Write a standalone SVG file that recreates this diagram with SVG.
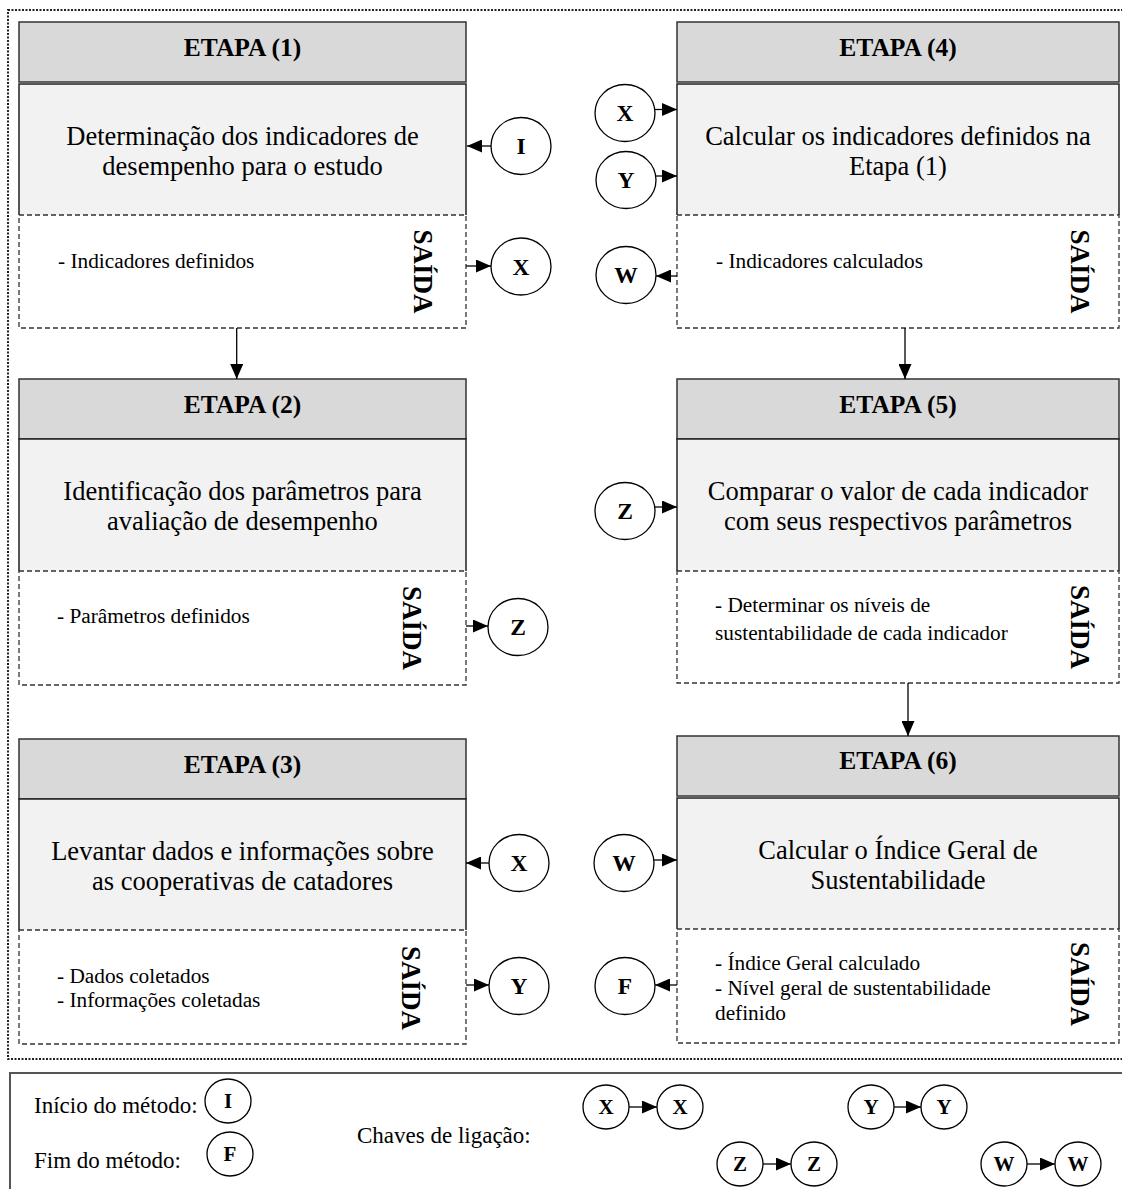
<svg xmlns="http://www.w3.org/2000/svg" width="1122" height="1189" viewBox="0 0 1122 1189">
<style>
text{font-family:"Liberation Serif","Times New Roman",serif;fill:#000}
.hd{fill:#d9d9d9;stroke:#333;stroke-width:1.5}
.bf{fill:#f2f2f2;stroke:none}
.be{fill:none;stroke:#222;stroke-width:1.5}
.ds{fill:none;stroke:#333;stroke-width:1.3;stroke-dasharray:5 3}
.ht{font-size:25.5px;font-weight:bold;text-anchor:middle}
.bt{font-size:26.5px;text-anchor:middle}
.ot{font-size:21.3px}
.sd{font-size:27px;font-weight:bold;text-anchor:middle}
.c{fill:#fff;stroke:#000;stroke-width:1.3}
.ct{font-size:23.5px;font-weight:bold;text-anchor:middle}
.lt{font-size:21px;font-weight:bold;text-anchor:middle}
.lg{font-size:23px}
.ln{fill:none;stroke:#000;stroke-width:1.3}
</style>
<defs>
<marker id="ah" viewBox="0 0 15 13" refX="15" refY="6.5" markerWidth="15" markerHeight="13" markerUnits="userSpaceOnUse" orient="auto">
<path d="M0,0 L15,6.5 L0,13 Z" fill="#000"/>
</marker>
</defs>
<rect x="8" y="10" width="1130" height="1049" fill="none" stroke="#222" stroke-width="2" stroke-dasharray="2 1.5"/>

<g id="etapa1">
<rect class="hd" x="19" y="22" width="447" height="60"/>
<text class="ht" x="242.5" y="56">ETAPA (1)</text>
<rect class="bf" x="19" y="84" width="447" height="131"/>
<path class="be" d="M19,215 V84 H466 V215"/>
<text class="bt" x="242.5" y="145">Determinação dos indicadores de</text>
<text class="bt" x="242.5" y="175">desempenho para o estudo</text>
<rect class="ds" x="19" y="215" width="447" height="113"/>
<text class="ot" x="58" y="268">- Indicadores definidos</text>
<text class="sd" transform="translate(414,271.5) rotate(90)">SAÍDA</text>
</g>

<g id="etapa2">
<rect class="hd" x="19" y="379" width="447" height="60"/>
<text class="ht" x="242.5" y="412.5">ETAPA (2)</text>
<rect class="bf" x="19" y="439" width="447" height="132"/>
<path class="be" d="M19,571 V439 H466 V571"/>
<text class="bt" x="242.5" y="500">Identificação dos parâmetros para</text>
<text class="bt" x="242.5" y="530">avaliação de desempenho</text>
<rect class="ds" x="19" y="571" width="447" height="114"/>
<text class="ot" x="57" y="623">- Parâmetros definidos</text>
<text class="sd" transform="translate(403,628) rotate(90)">SAÍDA</text>
</g>

<g id="etapa3">
<rect class="hd" x="19" y="739" width="447" height="60"/>
<text class="ht" x="242.5" y="772.5">ETAPA (3)</text>
<rect class="bf" x="19" y="799" width="447" height="131"/>
<path class="be" d="M19,930 V799 H466 V930"/>
<text class="bt" x="242.5" y="860">Levantar dados e informações sobre</text>
<text class="bt" x="242.5" y="890">as cooperativas de catadores</text>
<rect class="ds" x="19" y="930" width="447" height="114"/>
<text class="ot" x="57" y="983">- Dados coletados</text>
<text class="ot" x="57" y="1007">- Informações coletadas</text>
<text class="sd" transform="translate(402,988) rotate(90)">SAÍDA</text>
</g>

<g id="etapa4">
<rect class="hd" x="677" y="22" width="442" height="60"/>
<text class="ht" x="898" y="56">ETAPA (4)</text>
<rect class="bf" x="677" y="84" width="442" height="131"/>
<path class="be" d="M677,215 V84 H1119 V215"/>
<text class="bt" x="898" y="145">Calcular os indicadores definidos na</text>
<text class="bt" x="898" y="175">Etapa (1)</text>
<rect class="ds" x="677" y="215" width="442" height="113"/>
<text class="ot" x="716" y="268">- Indicadores calculados</text>
<text class="sd" transform="translate(1071,271.5) rotate(90)">SAÍDA</text>
</g>

<g id="etapa5">
<rect class="hd" x="677" y="379" width="442" height="60"/>
<text class="ht" x="898" y="412.5">ETAPA (5)</text>
<rect class="bf" x="677" y="439" width="442" height="132"/>
<path class="be" d="M677,571 V439 H1119 V571"/>
<text class="bt" x="898" y="500">Comparar o valor de cada indicador</text>
<text class="bt" x="898" y="530">com seus respectivos parâmetros</text>
<rect class="ds" x="677" y="571" width="442" height="112"/>
<text class="ot" x="715" y="611.5">- Determinar os níveis de</text>
<text class="ot" x="715" y="640">sustentabilidade de cada indicador</text>
<text class="sd" transform="translate(1071,627) rotate(90)">SAÍDA</text>
</g>

<g id="etapa6">
<rect class="hd" x="677" y="736" width="442" height="60"/>
<text class="ht" x="898" y="769">ETAPA (6)</text>
<rect class="bf" x="677" y="798" width="442" height="131"/>
<path class="be" d="M677,929 V798 H1119 V929"/>
<text class="bt" x="898" y="859">Calcular o Índice Geral de</text>
<text class="bt" x="898" y="889">Sustentabilidade</text>
<rect class="ds" x="677" y="929" width="442" height="114"/>
<text class="ot" x="715" y="970">- Índice Geral calculado</text>
<text class="ot" x="715" y="995">- Nível geral de sustentabilidade</text>
<text class="ot" x="715" y="1020">definido</text>
<text class="sd" transform="translate(1071,984) rotate(90)">SAÍDA</text>
</g>

<g id="key-I-start"><ellipse class="c" cx="521" cy="146" rx="30" ry="28.5"/><text class="ct" x="521" y="154">I</text></g>
<g id="key-X-out1"><ellipse class="c" cx="521" cy="266.5" rx="30" ry="28.5"/><text class="ct" x="521" y="274.5">X</text></g>
<g id="key-X-in4"><ellipse class="c" cx="625" cy="113" rx="30" ry="28.5"/><text class="ct" x="625" y="121">X</text></g>
<g id="key-Y-in4"><ellipse class="c" cx="626" cy="180" rx="30" ry="28.5"/><text class="ct" x="626" y="188">Y</text></g>
<g id="key-W-out4"><ellipse class="c" cx="626" cy="275" rx="30" ry="28.5"/><text class="ct" x="626" y="283">W</text></g>
<g id="key-Z-in5"><ellipse class="c" cx="625" cy="511" rx="30" ry="28.5"/><text class="ct" x="625" y="519">Z</text></g>
<g id="key-Z-out2"><ellipse class="c" cx="518" cy="627" rx="30" ry="28.5"/><text class="ct" x="518" y="635">Z</text></g>
<g id="key-X-in3"><ellipse class="c" cx="519" cy="863" rx="30" ry="28.5"/><text class="ct" x="519" y="871">X</text></g>
<g id="key-W-in6"><ellipse class="c" cx="624" cy="863" rx="30" ry="28.5"/><text class="ct" x="624" y="871">W</text></g>
<g id="key-Y-out3"><ellipse class="c" cx="519" cy="986" rx="30" ry="28.5"/><text class="ct" x="519" y="994">Y</text></g>
<g id="key-F-end"><ellipse class="c" cx="625" cy="986" rx="30" ry="28.5"/><text class="ct" x="625" y="994">F</text></g>

<g id="connectors">
<line class="ln" x1="491" y1="146" x2="467" y2="146" marker-end="url(#ah)"/>
<line class="ln" x1="466" y1="266" x2="491" y2="266" marker-end="url(#ah)"/>
<line class="ln" x1="655" y1="109.5" x2="677" y2="109.5" marker-end="url(#ah)"/>
<line class="ln" x1="656" y1="176" x2="677" y2="176" marker-end="url(#ah)"/>
<line class="ln" x1="677" y1="276" x2="656" y2="276" marker-end="url(#ah)"/>
<line class="ln" x1="655" y1="507" x2="677" y2="507" marker-end="url(#ah)"/>
<line class="ln" x1="466" y1="626" x2="488" y2="626" marker-end="url(#ah)"/>
<line class="ln" x1="489" y1="863" x2="466" y2="863" marker-end="url(#ah)"/>
<line class="ln" x1="654" y1="860" x2="677" y2="860" marker-end="url(#ah)"/>
<line class="ln" x1="466" y1="985" x2="489" y2="985" marker-end="url(#ah)"/>
<line class="ln" x1="677" y1="985" x2="655" y2="985" marker-end="url(#ah)"/>
<line class="ln" x1="236.7" y1="328" x2="236.7" y2="379" marker-end="url(#ah)"/>
<line class="ln" x1="905" y1="328" x2="905" y2="379" marker-end="url(#ah)"/>
<line class="ln" x1="908" y1="683" x2="908" y2="736" marker-end="url(#ah)"/>
</g>

<g id="legend">
<path d="M10,1189 V1073 H1122" fill="none" stroke="#555" stroke-width="2"/>
<text class="lg" x="34" y="1113">Início do método:</text>
<ellipse class="c" cx="228" cy="1101" rx="23" ry="22"/><text class="lt" x="228" y="1108">I</text>
<text class="lg" x="34" y="1168">Fim do método:</text>
<ellipse class="c" cx="230" cy="1154" rx="23" ry="22"/><text class="lt" x="230" y="1161">F</text>
<text class="lg" x="357" y="1143">Chaves de ligação:</text>
<ellipse class="c" cx="606" cy="1107" rx="23" ry="22"/><text class="lt" x="606" y="1114">X</text>
<line class="ln" x1="629" y1="1107" x2="657" y2="1107" marker-end="url(#ah)"/>
<ellipse class="c" cx="680" cy="1107" rx="23" ry="22"/><text class="lt" x="680" y="1114">X</text>
<ellipse class="c" cx="871" cy="1107" rx="23" ry="22"/><text class="lt" x="871" y="1114">Y</text>
<line class="ln" x1="894" y1="1107" x2="921" y2="1107" marker-end="url(#ah)"/>
<ellipse class="c" cx="944" cy="1107" rx="23" ry="22"/><text class="lt" x="944" y="1114">Y</text>
<ellipse class="c" cx="740" cy="1164" rx="23" ry="22"/><text class="lt" x="740" y="1171">Z</text>
<line class="ln" x1="763" y1="1164" x2="791" y2="1164" marker-end="url(#ah)"/>
<ellipse class="c" cx="814" cy="1164" rx="23" ry="22"/><text class="lt" x="814" y="1171">Z</text>
<ellipse class="c" cx="1004" cy="1164" rx="23" ry="22"/><text class="lt" x="1004" y="1171">W</text>
<line class="ln" x1="1027" y1="1164" x2="1055" y2="1164" marker-end="url(#ah)"/>
<ellipse class="c" cx="1078" cy="1164" rx="23" ry="22"/><text class="lt" x="1078" y="1171">W</text>
</g>
</svg>
